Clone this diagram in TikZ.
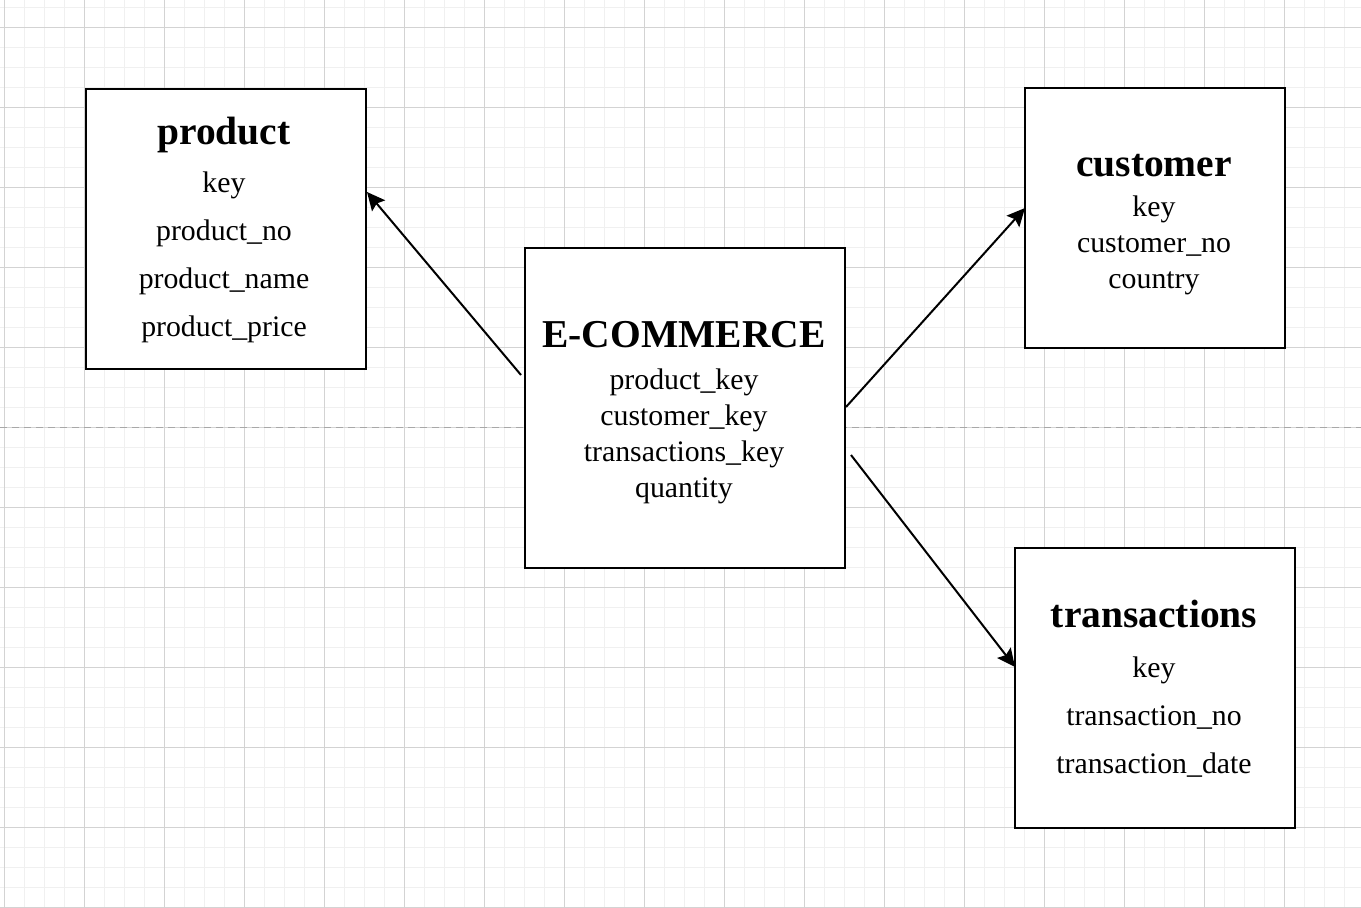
\documentclass[tikz,border=0pt]{standalone}
\usepackage{fontspec}
\setmainfont{Liberation Serif}
\usetikzlibrary{arrows.meta,calc}
\definecolor{gridminor}{HTML}{F0F0F0}
\definecolor{gridmajor}{HTML}{D3D3D3}
\definecolor{dashcol}{HTML}{A8A8A8}
\tikzset{
  entity/.style={draw=black, line width=2pt, fill=white, outer sep=0pt, inner sep=0pt},
  titletext/.style={anchor=base, inner sep=0pt, font=\fontsize{39.5}{47}\selectfont\bfseries},
  bodytext/.style={anchor=base, inner sep=0pt, font=\fontsize{29.8}{36}\selectfont},
  link/.style={draw=black, line width=2pt, -{Stealth[length=18pt, width=17pt, inset=3pt]}},
}
\begin{document}
\begin{tikzpicture}[x=1pt, y=-1pt]
\useasboundingbox (0,0) rectangle (1361,908);
\fill[white] (0,0) rectangle (1361,908);
% grid
\foreach \gx in {4,24,...,1344} {\draw[gridminor, line width=1pt] (\gx,0) -- (\gx,908);}
\foreach \gy in {7,27,...,907} {\draw[gridminor, line width=1pt] (0,\gy) -- (1361,\gy);}
\foreach \gx in {4,84,...,1344} {\draw[gridmajor, line width=1pt] (\gx,0) -- (\gx,908);}
\foreach \gy in {27,107,...,907} {\draw[gridmajor, line width=1pt] (0,\gy) -- (1361,\gy);}
\draw[dashcol, line width=1.5pt, dash pattern=on 7pt off 5pt] (0,427.5) -- (1361,427.5);

% boxes
\node[entity, minimum width=280pt, minimum height=280pt] (product) at (225.5,228.5) {};
\node[entity, minimum width=320pt, minimum height=320pt] (ecom) at (685,408) {};
\node[entity, minimum width=260pt, minimum height=260pt] (customer) at (1155,218) {};
\node[entity, minimum width=280pt, minimum height=280pt] (trans) at (1155,688) {};

% product text
\node[titletext] (pt) at (224,144) {product};
\node[bodytext] (p1) at (224,192) {key};
\node[bodytext] (p2) at (224,240) {product\_no};
\node[bodytext] (p3) at (224,288) {product\_name};
\node[bodytext] (p4) at (224,336) {product\_price};

% ecommerce text
\node[titletext] (et) at (684,347) {E-COMMERCE};
\node[bodytext] (e1) at (684,389) {product\_key};
\node[bodytext] (e2) at (684,425) {customer\_key};
\node[bodytext] (e3) at (684,461) {transactions\_key};
\node[bodytext] (e4) at (684,497) {quantity};

% customer text
\node[titletext] (ct) at (1154,176) {customer};
\node[bodytext] (c1) at (1154,216) {key};
\node[bodytext] (c2) at (1154,252) {customer\_no};
\node[bodytext] (c3) at (1154,288) {country};

% transactions text
\node[titletext] (tt) at (1154,627) {transactions};
\node[bodytext] (t1) at (1154,677) {key};
\node[bodytext] (t2) at (1154,725) {transaction\_no};
\node[bodytext] (t3) at (1154,773) {transaction\_date};

% connector end points
\coordinate (s1) at ($(ecom.north west)+(-4,127)$);
\coordinate (e1p) at ($(product.north east)+(1.5,103.5)$);
\coordinate (s2) at ($(ecom.north east)+(1,159)$);
\coordinate (e2p) at ($(customer.north west)+(0,120)$);
\coordinate (s3) at ($(ecom.north east)+(6,207)$);
\coordinate (e3p) at ($(trans.north west)+(0,119)$);

\draw[link] (s1) -- (e1p);
\draw[link] (s2) -- (e2p);
\draw[link] (s3) -- (e3p);
\end{tikzpicture}
\end{document}
